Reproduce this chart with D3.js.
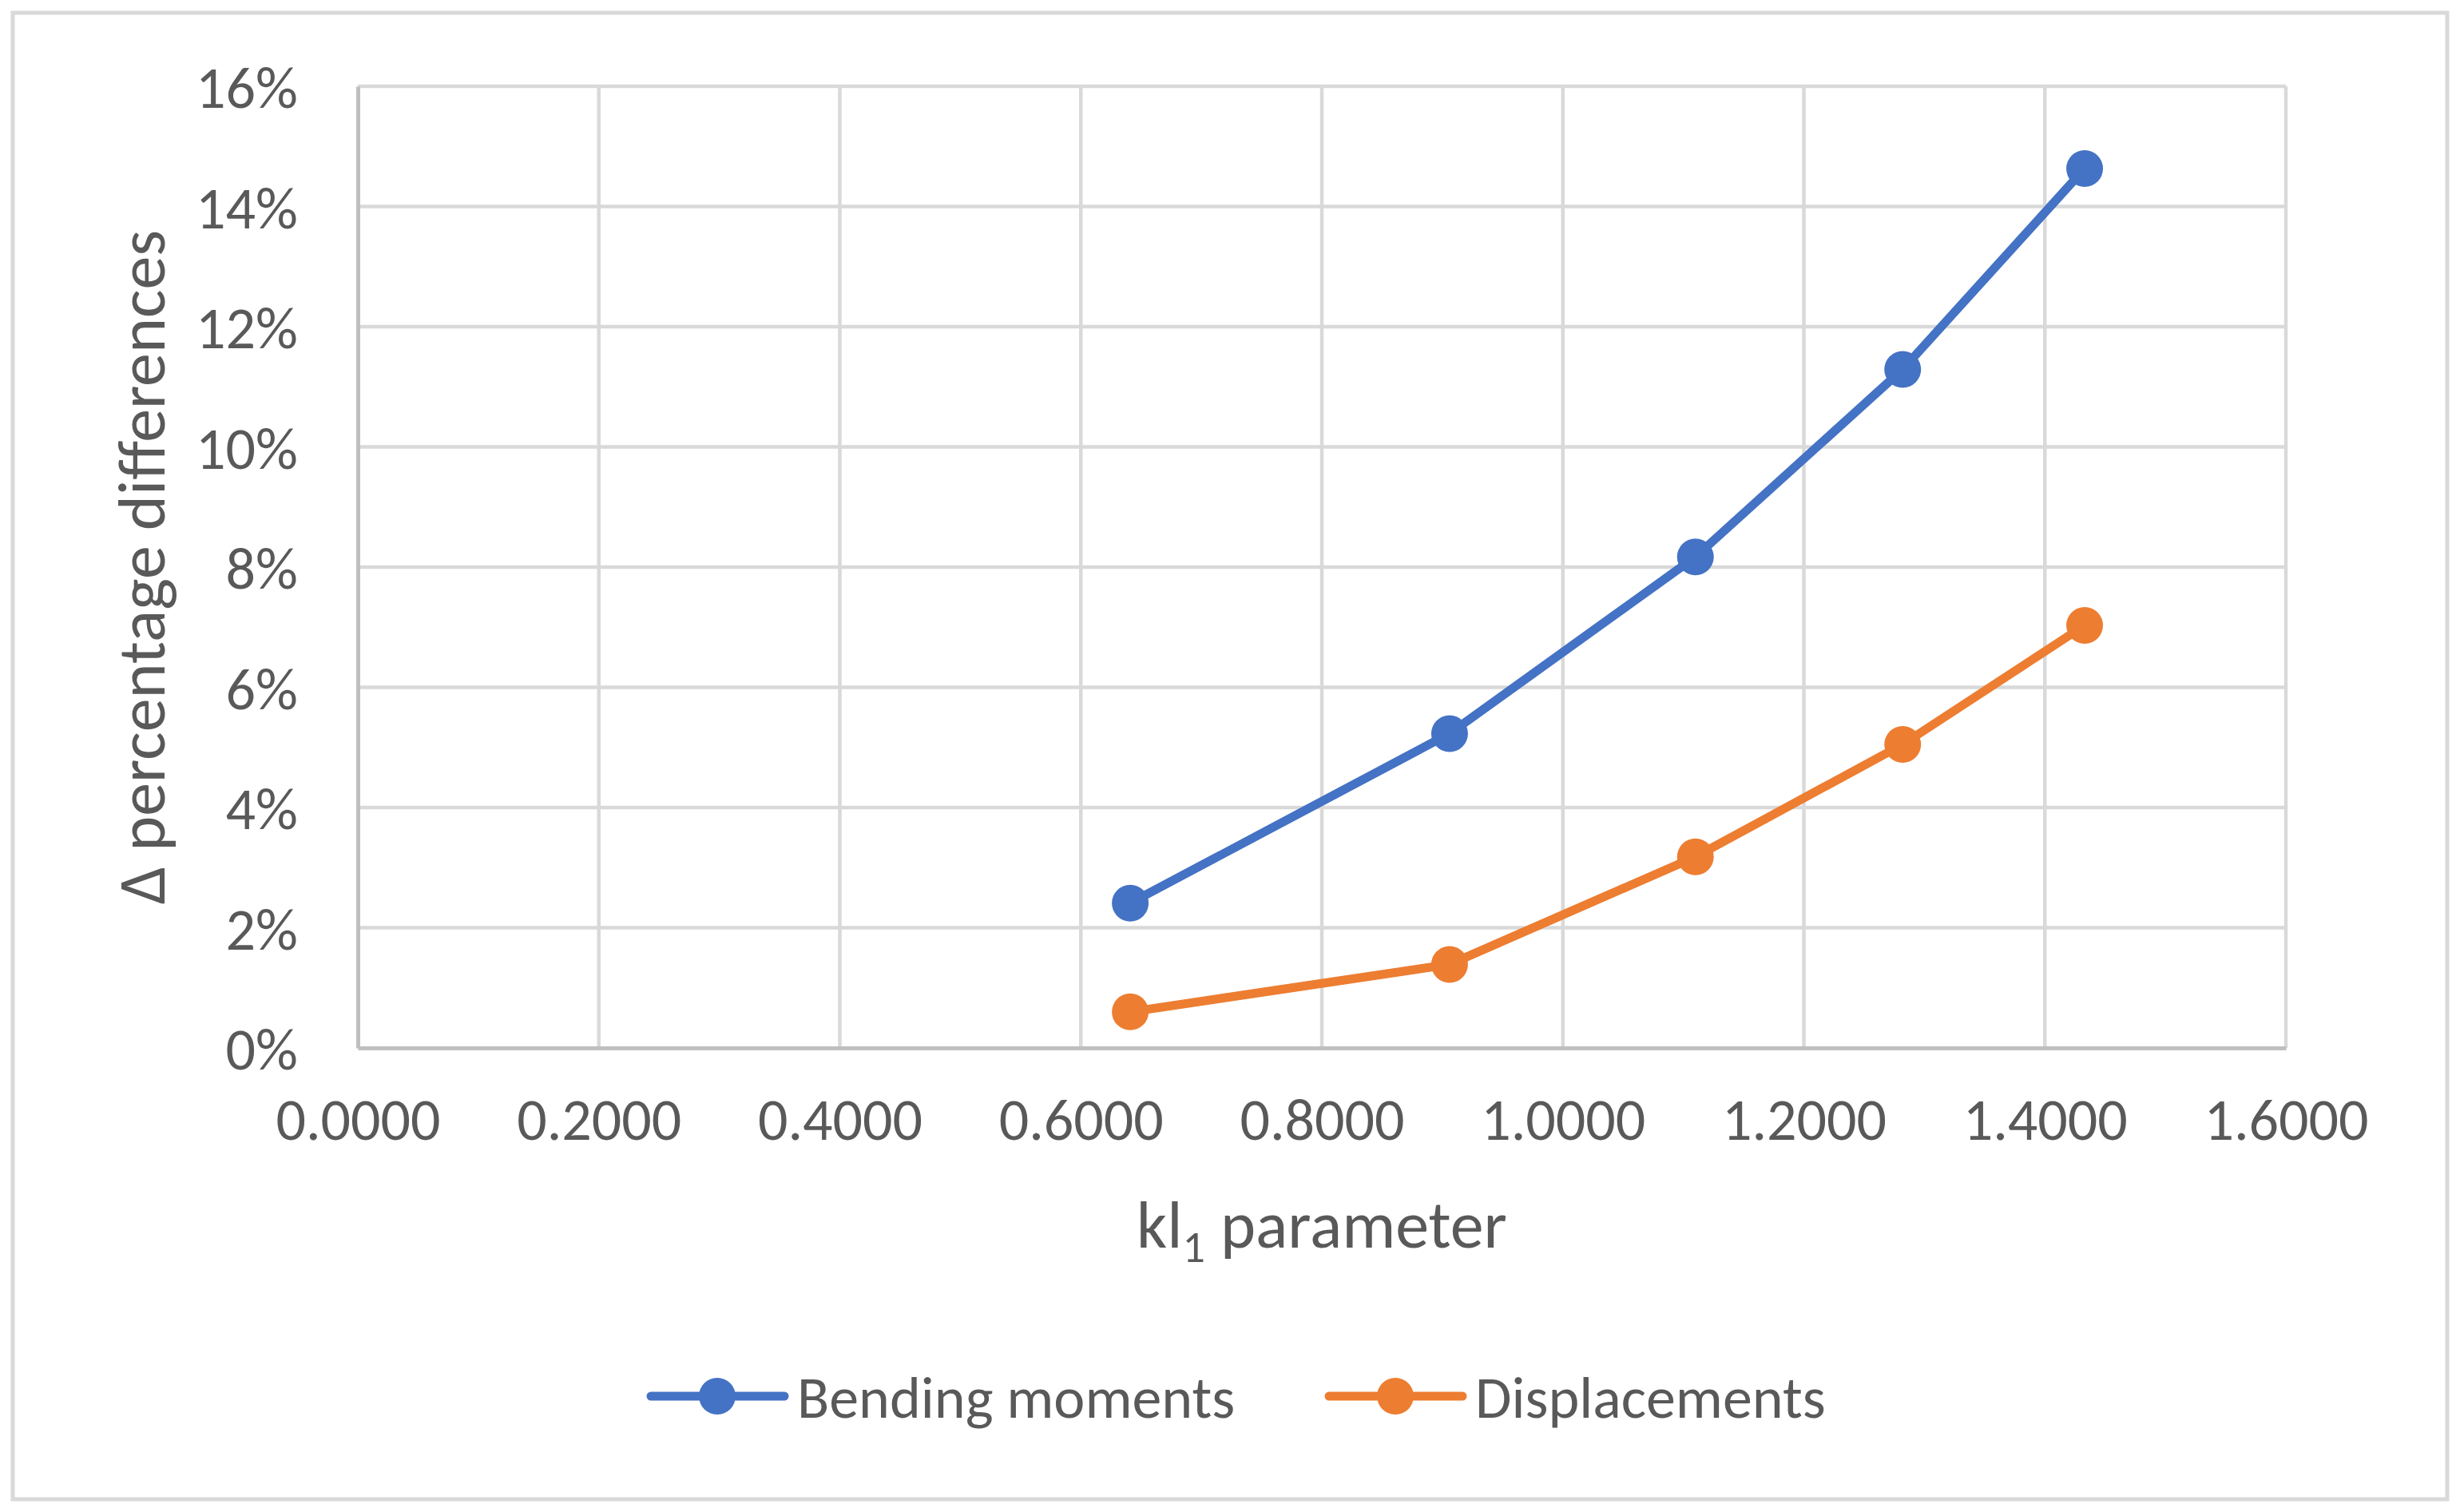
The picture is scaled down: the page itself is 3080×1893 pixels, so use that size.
<!DOCTYPE html>
<html>
<head>
<meta charset="utf-8">
<script src="https://cdn.jsdelivr.net/npm/d3@7"></script>
<style>
  html, body { margin: 0; padding: 0; background: #fff; }
  svg text { font-family: Carlito, Calibri, Lato, "Open Sans", sans-serif; fill: #595959; }
</style>
</head>
<body>
<div id="chart"></div>
<script>
// kl1 parameter values (x)
const klValues = [0.641, 0.906, 1.110, 1.282, 1.433];
// Δ percentage differences, in %
const bendingMoments = [2.41, 5.23, 8.17, 11.29, 14.63];
const displacements = [0.60, 1.39, 3.18, 5.05, 7.03];

const seriesNames = ['Bending moments', 'Displacements'];
const seriesColors = ['#4472c4', '#ed7d31'];
const xTicks = [0, 0.2, 0.4, 0.6, 0.8, 1.0, 1.2, 1.4, 1.6];
const yTicks = [0, 2, 4, 6, 8, 10, 12, 14, 16];

const W = 3080, H = 1893;
const plot = { left: 448, right: 2862, top: 108, bottom: 1312 };

const svg = d3.select('#chart').append('svg')
  .attr('width', W)
  .attr('height', H);

// chart border
svg.append('rect')
  .attr('x', 16).attr('y', 16)
  .attr('width', W - 32).attr('height', H - 32)
  .attr('fill', '#fff')
  .attr('stroke', '#d9d9d9')
  .attr('stroke-width', 5);

const x = d3.scaleLinear().domain([0, 1.6]).range([plot.left, plot.right]);
const y = d3.scaleLinear().domain([0, 16]).range([plot.bottom, plot.top]);

// gridlines
const grid = svg.append('g').attr('class', 'grid');
grid.selectAll('line.h')
  .data(yTicks.filter(d => d > 0))
  .join('line')
  .attr('class', 'h')
  .attr('x1', plot.left).attr('x2', plot.right)
  .attr('y1', d => y(d)).attr('y2', d => y(d))
  .attr('stroke', '#d9d9d9').attr('stroke-width', 4.5);

grid.selectAll('line.v')
  .data(xTicks.filter(d => d > 0))
  .join('line')
  .attr('class', 'v')
  .attr('x1', d => x(d)).attr('x2', d => x(d))
  .attr('y1', plot.top).attr('y2', plot.bottom)
  .attr('stroke', '#d9d9d9').attr('stroke-width', 4.5);

// axes
const xAxis = svg.append('g')
  .attr('transform', `translate(0,${plot.bottom})`)
  .call(d3.axisBottom(x).tickValues(xTicks).tickSize(0).tickPadding(62).tickFormat(d3.format('.4f')));
const yAxis = svg.append('g')
  .attr('transform', `translate(${plot.left},0)`)
  .call(d3.axisLeft(y).tickValues(yTicks).tickSize(0).tickPadding(75).tickFormat(d => d + '%'));

[xAxis, yAxis].forEach(a => {
  a.select('.domain').attr('stroke', '#bfbfbf').attr('stroke-width', 5);
  a.selectAll('text').attr('font-size', 74).attr('fill', '#595959')
    .style('font-family', 'Carlito, Calibri, Lato, "Open Sans", sans-serif');
});
xAxis.selectAll('text').attr('dy', '0.71em');
yAxis.selectAll('text').attr('dy', '0.36em');

// axis titles
const xTitle = svg.append('text')
  .attr('x', (plot.left + plot.right) / 2)
  .attr('y', 1562)
  .attr('text-anchor', 'middle')
  .attr('font-size', 84);
xTitle.append('tspan').text('kl');
xTitle.append('tspan').attr('font-size', 56).attr('dy', 18).text('1');
xTitle.append('tspan').attr('dy', -18).text(' parameter');

svg.append('text')
  .attr('transform', `translate(206,${(plot.top + plot.bottom) / 2}) rotate(-90)`)
  .attr('text-anchor', 'middle')
  .attr('font-size', 84)
  .text('Δ percentage differences');

// series
const series = [bendingMoments, displacements].map((vals, i) => ({
  name: seriesNames[i],
  color: seriesColors[i],
  points: vals.map((v, j) => ({ x: klValues[j], y: v }))
}));

const line = d3.line().x(d => x(d.x)).y(d => y(d.y));

const sg = svg.append('g').selectAll('g.series')
  .data(series)
  .join('g')
  .attr('class', 'series');

sg.append('path')
  .attr('d', d => line(d.points))
  .attr('fill', 'none')
  .attr('stroke', d => d.color)
  .attr('stroke-width', 11)
  .attr('stroke-linejoin', 'round');

sg.selectAll('circle')
  .data(d => d.points.map(p => ({ ...p, color: d.color })))
  .join('circle')
  .attr('cx', d => x(d.x))
  .attr('cy', d => y(d.y))
  .attr('r', 23)
  .attr('fill', d => d.color);

// legend
const legendY = 1748;
const legendX = [815, 1664];
const lg = svg.append('g').selectAll('g.legend')
  .data(series)
  .join('g')
  .attr('class', 'legend')
  .attr('transform', (d, i) => `translate(${legendX[i]},${legendY})`);

lg.append('line')
  .attr('x1', 0).attr('x2', 167)
  .attr('stroke', d => d.color).attr('stroke-width', 11)
  .attr('stroke-linecap', 'round');
lg.append('circle')
  .attr('cx', 83).attr('r', 23)
  .attr('fill', d => d.color);
lg.append('text')
  .attr('x', 183)
  .attr('dy', '0.36em')
  .attr('font-size', 74)
  .text(d => d.name);
</script>
</body>
</html>
